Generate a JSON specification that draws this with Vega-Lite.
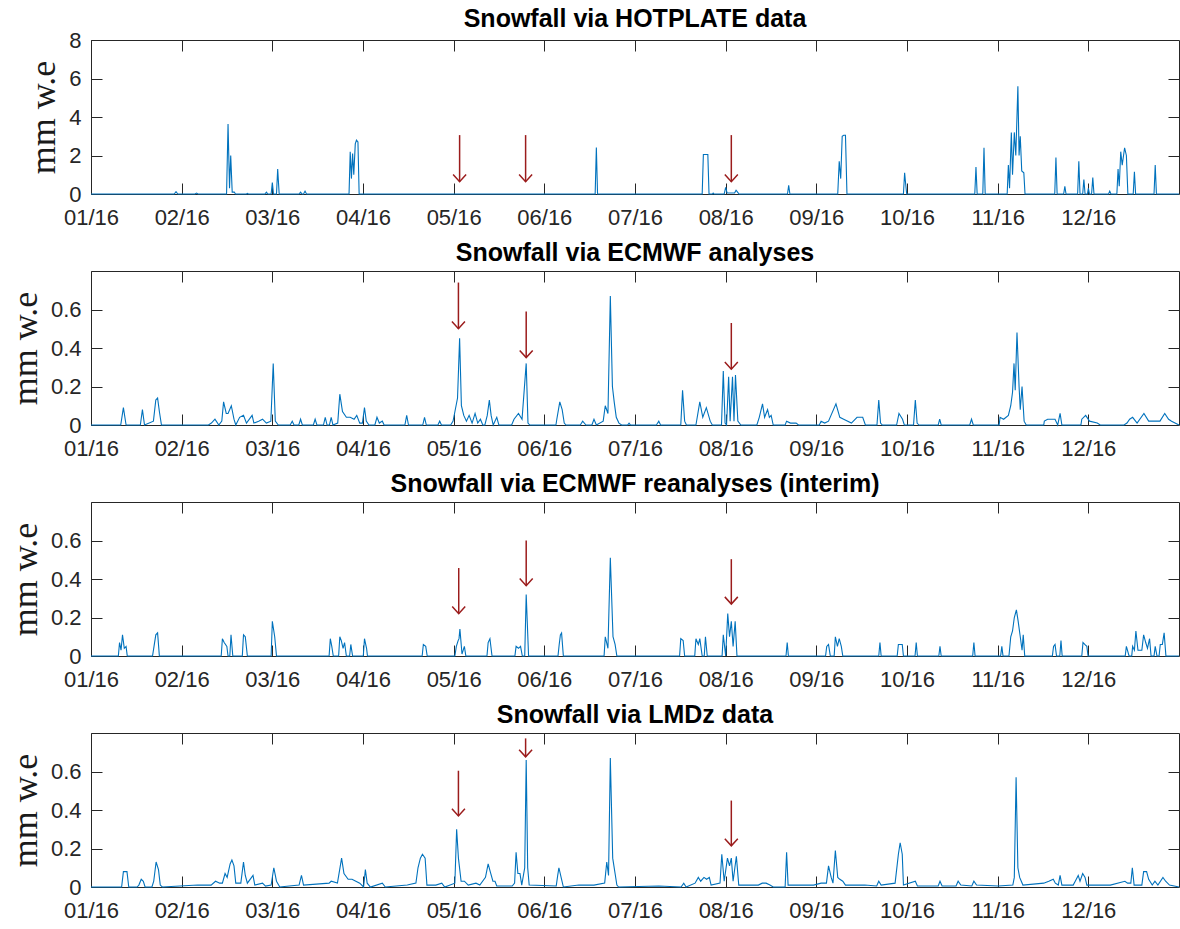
{
"$schema":"https://vega.github.io/schema/vega-lite/v6.json",
"background":"white",
"padding":{"left":6,"top":6,"right":0,"bottom":0},
"spacing":11,
"config":{
 "view":{"stroke":"#262626","strokeWidth":1},
 "axis":{"grid":false,"domain":false,"labelFlush":false,"tickColor":"#262626","tickWidth":1,"tickSize":-11,"labelFont":"Liberation Sans","labelFontSize":22,"labelColor":"#262626","titleFont":"Liberation Serif","titleFontSize":36,"titleFontWeight":"normal","titleColor":"#1a1a1a"},
 "title":{"font":"Liberation Sans","fontSize":25,"fontWeight":"bold","color":"#000000","anchor":"middle","frame":"group"}
},
"datasets":{
"hot":[
{"d":0,"v":0},{"d":28,"v":0},{"d":28.6,"v":0.12},{"d":29.2,"v":0},{"d":35,"v":0},{"d":35.5,"v":0.05},{"d":36,"v":0},
{"d":45.6,"v":0},{"d":46.1,"v":3.63},{"d":46.6,"v":0.3},{"d":47,"v":2.0},{"d":47.5,"v":0.1},{"d":48.2,"v":0.1},{"d":48.6,"v":0},
{"d":52.3,"v":0},{"d":52.6,"v":0.03},{"d":53,"v":0},
{"d":58.5,"v":0},{"d":59,"v":0.1},{"d":59.5,"v":0},{"d":60.6,"v":0},{"d":61,"v":0.6},{"d":61.4,"v":0},{"d":62.4,"v":0},{"d":62.8,"v":1.3},{"d":63.3,"v":0},
{"d":70,"v":0},{"d":70.5,"v":0.1},{"d":71,"v":0},{"d":71.5,"v":0},{"d":72,"v":0.15},{"d":72.5,"v":0},
{"d":86.8,"v":0},{"d":87.2,"v":2.2},{"d":87.6,"v":0.8},{"d":88,"v":2.1},{"d":88.4,"v":1.0},{"d":88.9,"v":2.6},{"d":89.3,"v":2.8},{"d":89.8,"v":2.7},{"d":90.2,"v":0},
{"d":169.6,"v":0},{"d":170,"v":2.42},{"d":170.4,"v":0},
{"d":205.6,"v":0},{"d":206,"v":2.05},{"d":207.5,"v":2.05},{"d":207.9,"v":0},
{"d":209,"v":0},{"d":209.3,"v":0.05},{"d":209.6,"v":0},
{"d":213,"v":0},{"d":213.5,"v":0.35},{"d":214,"v":0.05},{"d":216.5,"v":0.05},{"d":217,"v":0.2},{"d":217.5,"v":0.1},{"d":218,"v":0},
{"d":234.3,"v":0},{"d":234.7,"v":0.45},{"d":235.1,"v":0},
{"d":251.2,"v":0},{"d":251.7,"v":1.7},{"d":252.2,"v":0.8},{"d":252.7,"v":3.0},{"d":253.2,"v":3.05},{"d":253.8,"v":3.05},{"d":254.3,"v":0},
{"d":273.3,"v":0},{"d":273.7,"v":1.1},{"d":274,"v":0.6},{"d":274.4,"v":0},
{"d":297.3,"v":0},{"d":297.7,"v":1.4},{"d":298.1,"v":0},
{"d":300,"v":0},{"d":300.4,"v":2.4},{"d":300.8,"v":0},
{"d":308.2,"v":0},{"d":308.6,"v":1.5},{"d":309,"v":0.3},{"d":309.6,"v":3.2},{"d":310,"v":1.0},{"d":310.6,"v":3.2},{"d":311.1,"v":2.0},{"d":311.8,"v":5.6},{"d":312.2,"v":2.0},{"d":312.6,"v":3.0},{"d":313.1,"v":1.2},{"d":313.8,"v":1.1},{"d":314.2,"v":0},
{"d":324.2,"v":0},{"d":324.6,"v":1.9},{"d":325,"v":0},
{"d":327.2,"v":0},{"d":327.6,"v":0.4},{"d":328,"v":0},
{"d":331.9,"v":0},{"d":332.3,"v":1.7},{"d":332.7,"v":0},{"d":333.6,"v":0},{"d":334,"v":0.75},{"d":334.4,"v":0},{"d":335.2,"v":0},{"d":335.5,"v":0.3},{"d":335.9,"v":0},{"d":336.6,"v":0},{"d":337,"v":0.85},{"d":337.4,"v":0},
{"d":342.3,"v":0},{"d":342.7,"v":0.15},{"d":343.1,"v":0},
{"d":345.1,"v":0},{"d":345.5,"v":1.3},{"d":345.9,"v":0.4},{"d":346.4,"v":2.2},{"d":346.9,"v":1.5},{"d":347.7,"v":2.4},{"d":348.3,"v":2.0},{"d":348.8,"v":0},
{"d":350.6,"v":0},{"d":351,"v":1.15},{"d":351.4,"v":0},
{"d":357.6,"v":0},{"d":358,"v":1.5},{"d":358.4,"v":0},{"d":366,"v":0}
],
"ana":[
{"d":0,"v":0},{"d":10,"v":0},{"d":10.9,"v":0.09},{"d":11.8,"v":0},{"d":16.6,"v":0},{"d":17.3,"v":0.08},{"d":18,"v":0},{"d":21,"v":0.02},{"d":21.8,"v":0.13},{"d":22.4,"v":0.14},{"d":23,"v":0.07},{"d":23.7,"v":0},
{"d":39.5,"v":0},{"d":40.5,"v":0.01},{"d":41.7,"v":0.03},{"d":43,"v":0},{"d":44,"v":0.02},{"d":44.6,"v":0.12},{"d":45.5,"v":0.06},{"d":46.1,"v":0.06},{"d":47.2,"v":0.1},{"d":48.1,"v":0.03},{"d":48.7,"v":0},{"d":50,"v":0.04},{"d":51.3,"v":0.05},{"d":52.3,"v":0.01},{"d":54.2,"v":0.05},{"d":54.8,"v":0.01},{"d":56.4,"v":0.02},{"d":57.7,"v":0.03},{"d":59,"v":0.01},{"d":60.5,"v":0.02},{"d":61.3,"v":0.32},{"d":62,"v":0.02},{"d":63,"v":0},
{"d":67,"v":0},{"d":67.7,"v":0.02},{"d":68.3,"v":0},{"d":69.9,"v":0},{"d":70.5,"v":0.03},{"d":71.1,"v":0},{"d":74.8,"v":0},{"d":75.4,"v":0.03},{"d":76,"v":0},{"d":78.2,"v":0},{"d":78.8,"v":0.04},{"d":79.4,"v":0},{"d":80.2,"v":0},{"d":80.8,"v":0.04},{"d":81.4,"v":0},{"d":83,"v":0.01},{"d":83.7,"v":0.16},{"d":84.6,"v":0.07},{"d":85.9,"v":0.04},{"d":87.2,"v":0.04},{"d":88.5,"v":0.03},{"d":89.4,"v":0.05},{"d":90.4,"v":0.01},{"d":91.3,"v":0.01},{"d":92,"v":0.09},{"d":92.6,"v":0.02},{"d":93.5,"v":0},{"d":95.5,"v":0},{"d":96.2,"v":0.04},{"d":97,"v":0.01},{"d":98,"v":0.02},{"d":98.6,"v":0},
{"d":105.6,"v":0},{"d":106.2,"v":0.05},{"d":106.8,"v":0},{"d":111.6,"v":0},{"d":112.2,"v":0.04},{"d":112.8,"v":0},{"d":116.7,"v":0},{"d":117.3,"v":0.02},{"d":117.9,"v":0},
{"d":121,"v":0},{"d":121.8,"v":0.02},{"d":122.8,"v":0.1},{"d":123.3,"v":0.14},{"d":124,"v":0.45},{"d":124.6,"v":0.1},{"d":125.4,"v":0.05},{"d":126.3,"v":0.02},{"d":127.2,"v":0.05},{"d":128.2,"v":0.01},{"d":129.2,"v":0.06},{"d":130.1,"v":0.01},{"d":131,"v":0.03},{"d":131.8,"v":0},{"d":132.5,"v":0},{"d":133.3,"v":0.05},{"d":134,"v":0.13},{"d":134.6,"v":0.05},{"d":135.3,"v":0},{"d":136.5,"v":0.04},{"d":137.2,"v":0},
{"d":141.5,"v":0},{"d":142.3,"v":0.03},{"d":143.8,"v":0.06},{"d":145,"v":0.03},{"d":146.4,"v":0.32},{"d":147,"v":0.01},{"d":147.6,"v":0},
{"d":156.4,"v":0},{"d":156.7,"v":0.03},{"d":157.7,"v":0.12},{"d":158.5,"v":0.08},{"d":159.2,"v":0.01},{"d":159.8,"v":0},
{"d":164.6,"v":0},{"d":165.4,"v":0.02},{"d":166.5,"v":0},{"d":168.5,"v":0},{"d":169.2,"v":0.03},{"d":170,"v":0},{"d":172.3,"v":0.02},{"d":173,"v":0.1},{"d":173.9,"v":0.06},{"d":174.7,"v":0.67},{"d":175.4,"v":0.2},{"d":176,"v":0.12},{"d":176.7,"v":0.04},{"d":177.6,"v":0.01},{"d":178.5,"v":0},
{"d":180.5,"v":0},{"d":181,"v":0.01},{"d":181.5,"v":0},{"d":190.2,"v":0},{"d":191,"v":0.02},{"d":191.6,"v":0},
{"d":198.4,"v":0},{"d":199,"v":0.18},{"d":199.7,"v":0.02},{"d":200.3,"v":0},
{"d":203.5,"v":0},{"d":204.8,"v":0.12},{"d":205.8,"v":0.04},{"d":207,"v":0.09},{"d":208.3,"v":0.02},{"d":209,"v":0},
{"d":212.1,"v":0},{"d":212.7,"v":0.28},{"d":213.3,"v":0.01},{"d":213.8,"v":0},{"d":214.5,"v":0.25},{"d":215,"v":0.02},{"d":215.8,"v":0.25},{"d":216.3,"v":0.02},{"d":216.8,"v":0.26},{"d":217.6,"v":0.02},{"d":218.6,"v":0},
{"d":224,"v":0},{"d":224.8,"v":0.04},{"d":225.9,"v":0.11},{"d":226.6,"v":0.04},{"d":227.6,"v":0.08},{"d":228.2,"v":0.04},{"d":228.8,"v":0.05},{"d":229.5,"v":0},
{"d":233.5,"v":0},{"d":234,"v":0.02},{"d":235.3,"v":0.01},{"d":237.2,"v":0.01},{"d":238,"v":0},
{"d":245,"v":0},{"d":245.6,"v":0.02},{"d":246.8,"v":0.01},{"d":248.1,"v":0.02},{"d":250.6,"v":0.11},{"d":251.9,"v":0.04},{"d":253.2,"v":0.03},{"d":255.8,"v":0.01},{"d":257.7,"v":0.04},{"d":259.6,"v":0.04},{"d":260.5,"v":0},
{"d":264.4,"v":0},{"d":265,"v":0.13},{"d":265.6,"v":0.01},{"d":266.2,"v":0},
{"d":271,"v":0},{"d":271.8,"v":0.06},{"d":273,"v":0.03},{"d":273.6,"v":0},
{"d":276.7,"v":0},{"d":277.3,"v":0.13},{"d":277.9,"v":0.01},{"d":278.5,"v":0},
{"d":285,"v":0},{"d":285.5,"v":0.03},{"d":286,"v":0},{"d":295.6,"v":0},{"d":296.2,"v":0.03},{"d":296.8,"v":0},
{"d":305.5,"v":0},{"d":305.8,"v":0.04},{"d":307,"v":0.03},{"d":308.6,"v":0.05},{"d":309.4,"v":0.1},{"d":310,"v":0.17},{"d":310.5,"v":0.32},{"d":310.9,"v":0.18},{"d":311.5,"v":0.48},{"d":312.2,"v":0.2},{"d":312.6,"v":0.08},{"d":313.2,"v":0.2},{"d":313.9,"v":0.02},{"d":314.6,"v":0},
{"d":320.5,"v":0},{"d":320.7,"v":0.02},{"d":321.8,"v":0.03},{"d":323.3,"v":0.03},{"d":324.3,"v":0.03},{"d":325.2,"v":0},{"d":326,"v":0.06},{"d":326.6,"v":0},
{"d":333,"v":0},{"d":333.3,"v":0.03},{"d":334.6,"v":0.05},{"d":335.9,"v":0.02},{"d":338.5,"v":0.01},{"d":339.5,"v":0},
{"d":347.5,"v":0},{"d":348.5,"v":0.01},{"d":349.4,"v":0.03},{"d":350.4,"v":0.04},{"d":351.9,"v":0.01},{"d":354.2,"v":0.06},{"d":355.8,"v":0.02},{"d":357.7,"v":0.02},{"d":359.6,"v":0.02},{"d":361.2,"v":0.06},{"d":362.5,"v":0.03},{"d":363.5,"v":0.02},{"d":366,"v":0}
],
"rea":[
{"d":0,"v":0},{"d":9.2,"v":0},{"d":9.6,"v":0.07},{"d":10.1,"v":0.03},{"d":10.6,"v":0.11},{"d":11.2,"v":0.04},{"d":11.8,"v":0.05},{"d":12.2,"v":0},
{"d":20.7,"v":0},{"d":21.2,"v":0.05},{"d":21.8,"v":0.11},{"d":22.4,"v":0.12},{"d":23,"v":0},
{"d":43.8,"v":0},{"d":44.2,"v":0.09},{"d":44.8,"v":0.07},{"d":45.7,"v":0.05},{"d":46.1,"v":0},{"d":46.7,"v":0},{"d":47.1,"v":0.11},{"d":47.7,"v":0},
{"d":50.9,"v":0},{"d":51.3,"v":0.11},{"d":51.9,"v":0.1},{"d":52.6,"v":0},
{"d":60.6,"v":0},{"d":61,"v":0.18},{"d":61.8,"v":0.1},{"d":62.4,"v":0},
{"d":80.1,"v":0},{"d":80.5,"v":0.09},{"d":81,"v":0.05},{"d":81.5,"v":0},
{"d":83.3,"v":0},{"d":83.7,"v":0.1},{"d":84.2,"v":0.08},{"d":84.8,"v":0.04},{"d":85.3,"v":0.07},{"d":85.9,"v":0},
{"d":87,"v":0},{"d":87.4,"v":0.06},{"d":88,"v":0},
{"d":91.6,"v":0},{"d":92,"v":0.09},{"d":92.7,"v":0.04},{"d":93,"v":0},
{"d":111.4,"v":0},{"d":111.8,"v":0.06},{"d":112.6,"v":0.05},{"d":113.1,"v":0},
{"d":122.4,"v":0},{"d":122.9,"v":0.05},{"d":123.5,"v":0.08},{"d":123.8,"v":0.09},{"d":124.1,"v":0.14},{"d":124.8,"v":0.01},{"d":125.6,"v":0.05},{"d":126.1,"v":0},
{"d":133.2,"v":0},{"d":133.6,"v":0.07},{"d":134.2,"v":0.09},{"d":134.9,"v":0},
{"d":142.6,"v":0},{"d":143,"v":0.05},{"d":143.8,"v":0.04},{"d":144.5,"v":0.05},{"d":145.1,"v":0},{"d":145.9,"v":0},{"d":146.4,"v":0.32},{"d":147.2,"v":0},
{"d":157.1,"v":0},{"d":157.5,"v":0.06},{"d":157.9,"v":0.11},{"d":158.3,"v":0.12},{"d":158.9,"v":0},
{"d":172.6,"v":0},{"d":173,"v":0.1},{"d":173.9,"v":0.04},{"d":174.7,"v":0.51},{"d":175.6,"v":0.1},{"d":176.3,"v":0.06},{"d":176.9,"v":0},
{"d":198,"v":0},{"d":198.4,"v":0.09},{"d":199.2,"v":0.08},{"d":199.7,"v":0},
{"d":203.1,"v":0},{"d":203.5,"v":0.09},{"d":204.3,"v":0.06},{"d":204.8,"v":0.09},{"d":205.6,"v":0},{"d":206.3,"v":0},{"d":206.7,"v":0.1},{"d":207.3,"v":0},
{"d":212.3,"v":0},{"d":212.7,"v":0.11},{"d":213.5,"v":0},{"d":214.2,"v":0.22},{"d":214.8,"v":0.1},{"d":215.4,"v":0.18},{"d":216,"v":0.05},{"d":216.7,"v":0.18},{"d":217.3,"v":0},
{"d":233.8,"v":0},{"d":234.2,"v":0.07},{"d":234.6,"v":0},
{"d":247.1,"v":0},{"d":247.5,"v":0.05},{"d":248.1,"v":0.06},{"d":248.7,"v":0},{"d":250,"v":0},{"d":250.4,"v":0.1},{"d":251.1,"v":0.05},{"d":251.7,"v":0.09},{"d":252.4,"v":0.05},{"d":252.9,"v":0},
{"d":265,"v":0},{"d":265.4,"v":0.07},{"d":265.8,"v":0},
{"d":271.2,"v":0},{"d":271.6,"v":0.06},{"d":272.3,"v":0.06},{"d":272.9,"v":0.06},{"d":273.3,"v":0},
{"d":277.2,"v":0},{"d":277.6,"v":0.07},{"d":278,"v":0},
{"d":285.2,"v":0},{"d":285.6,"v":0.05},{"d":286,"v":0},
{"d":296.6,"v":0},{"d":297,"v":0.07},{"d":297.4,"v":0},
{"d":306,"v":0},{"d":306.4,"v":0.05},{"d":306.8,"v":0},
{"d":308.8,"v":0},{"d":309.4,"v":0.1},{"d":310,"v":0.13},{"d":310.6,"v":0.2},{"d":311.3,"v":0.24},{"d":311.9,"v":0.18},{"d":312.6,"v":0.1},{"d":313.2,"v":0.03},{"d":313.6,"v":0.11},{"d":314.1,"v":0},
{"d":323.4,"v":0},{"d":323.8,"v":0.05},{"d":324.3,"v":0.06},{"d":324.8,"v":0},{"d":325.9,"v":0},{"d":326.3,"v":0.08},{"d":326.7,"v":0},
{"d":333.3,"v":0},{"d":333.7,"v":0.07},{"d":334.3,"v":0.06},{"d":335,"v":0.05},{"d":335.4,"v":0},
{"d":347.9,"v":0},{"d":348.3,"v":0.05},{"d":349.2,"v":0},{"d":350.1,"v":0},{"d":350.4,"v":0.05},{"d":351,"v":0.03},{"d":351.5,"v":0.13},{"d":352.2,"v":0.03},{"d":353.5,"v":0.03},{"d":354.1,"v":0.11},{"d":354.8,"v":0.07},{"d":355.4,"v":0.04},{"d":356.1,"v":0.09},{"d":356.6,"v":0},{"d":357.6,"v":0},{"d":358,"v":0.05},{"d":358.6,"v":0},{"d":359.3,"v":0},{"d":359.7,"v":0.06},{"d":360.4,"v":0.06},{"d":361,"v":0.12},{"d":361.6,"v":0},{"d":366,"v":0}
],
"lmd":[
{"d":0,"v":0},{"d":10.3,"v":0},{"d":10.9,"v":0.08},{"d":12.1,"v":0.08},{"d":12.7,"v":0},
{"d":15.5,"v":0},{"d":16.1,"v":0.01},{"d":16.9,"v":0.04},{"d":17.6,"v":0.03},{"d":18.2,"v":0},
{"d":20.5,"v":0},{"d":21.1,"v":0.03},{"d":21.9,"v":0.13},{"d":22.7,"v":0.09},{"d":23.3,"v":0.01},{"d":24,"v":0},
{"d":35.9,"v":0.01},{"d":40.4,"v":0.01},{"d":41.9,"v":0.03},{"d":43.3,"v":0.02},{"d":44.2,"v":0.02},{"d":45.1,"v":0.07},{"d":45.8,"v":0.05},{"d":46.8,"v":0.12},{"d":47.4,"v":0.14},{"d":48.1,"v":0.11},{"d":48.7,"v":0.02},{"d":50.4,"v":0.02},{"d":51.3,"v":0.13},{"d":51.9,"v":0.06},{"d":52.6,"v":0.02},{"d":54.5,"v":0.06},{"d":55.1,"v":0.01},{"d":57.7,"v":0.02},{"d":58.7,"v":0.005},{"d":60.6,"v":0.01},{"d":61.5,"v":0.1},{"d":62.4,"v":0.03},{"d":63.5,"v":0},{"d":66.7,"v":0.005},{"d":70,"v":0.01},{"d":70.8,"v":0.06},{"d":71.5,"v":0.01},
{"d":80.1,"v":0.02},{"d":80.8,"v":0.03},{"d":82.9,"v":0.02},{"d":84.3,"v":0.15},{"d":85.1,"v":0.07},{"d":86.5,"v":0.04},{"d":87.8,"v":0.04},{"d":89.1,"v":0.03},{"d":90.4,"v":0.02},{"d":91.7,"v":0},{"d":92.3,"v":0.09},{"d":92.9,"v":0.02},{"d":94,"v":0},{"d":98,"v":0.02},{"d":99,"v":0},
{"d":106.4,"v":0.01},{"d":109.3,"v":0.02},{"d":110,"v":0.1},{"d":110.8,"v":0.15},{"d":111.5,"v":0.17},{"d":112.4,"v":0.15},{"d":113,"v":0.01},{"d":116,"v":0.01},{"d":118,"v":0.02},{"d":119,"v":0},
{"d":122.4,"v":0.02},{"d":123,"v":0.3},{"d":123.6,"v":0.15},{"d":124.5,"v":0.03},{"d":125.6,"v":0.03},{"d":126.9,"v":0.01},{"d":129.5,"v":0.02},{"d":130.8,"v":0.01},{"d":132.7,"v":0.05},{"d":133.6,"v":0.12},{"d":134.3,"v":0.08},{"d":135.2,"v":0.03},{"d":135.9,"v":0.03},{"d":136.5,"v":0.005},
{"d":141.7,"v":0.005},{"d":142.5,"v":0.02},{"d":143,"v":0.18},{"d":143.6,"v":0.07},{"d":144.3,"v":0.07},{"d":144.9,"v":0.01},{"d":145.9,"v":0.1},{"d":146.4,"v":0.66},{"d":146.9,"v":0.1},{"d":147.4,"v":0.01},
{"d":156.5,"v":0.005},{"d":157,"v":0.06},{"d":157.4,"v":0.1},{"d":158.3,"v":0.04},{"d":158.9,"v":0},
{"d":164.1,"v":0.01},{"d":169.2,"v":0.01},{"d":172.8,"v":0.02},{"d":173.5,"v":0.13},{"d":174.1,"v":0.06},{"d":174.7,"v":0.67},{"d":175.5,"v":0.15},{"d":176.3,"v":0.07},{"d":176.9,"v":0.01},{"d":177.5,"v":0},
{"d":191,"v":0.005},{"d":198.5,"v":0},{"d":199.4,"v":0.02},{"d":200.2,"v":0},
{"d":203.2,"v":0.02},{"d":204.3,"v":0.05},{"d":205.1,"v":0.03},{"d":206.2,"v":0.05},{"d":207.1,"v":0.04},{"d":208,"v":0.05},{"d":208.6,"v":0.01},
{"d":211.6,"v":0.02},{"d":212.2,"v":0.17},{"d":213,"v":0.03},{"d":214.1,"v":0.15},{"d":214.8,"v":0.11},{"d":215.4,"v":0.15},{"d":216,"v":0.03},{"d":217.1,"v":0.16},{"d":217.9,"v":0.01},
{"d":224.5,"v":0.01},{"d":225.8,"v":0.02},{"d":227.1,"v":0.02},{"d":228.4,"v":0.01},{"d":229.5,"v":0},
{"d":233.5,"v":0},{"d":234,"v":0.18},{"d":234.5,"v":0.01},{"d":243.1,"v":0.01},{"d":245.6,"v":0.02},{"d":247.4,"v":0.02},{"d":248.1,"v":0.11},{"d":249,"v":0.05},{"d":249.6,"v":0.02},{"d":250.4,"v":0.19},{"d":251.2,"v":0.05},{"d":251.9,"v":0.04},{"d":252.9,"v":0.03},{"d":253.8,"v":0.01},{"d":260.3,"v":0.01},{"d":264.3,"v":0.005},{"d":265,"v":0.03},{"d":265.8,"v":0.01},
{"d":270.5,"v":0.02},{"d":271.6,"v":0.17},{"d":272.2,"v":0.23},{"d":272.9,"v":0.17},{"d":273.3,"v":0.01},
{"d":277.3,"v":0.03},{"d":278,"v":0.005},{"d":285,"v":0.005},{"d":285.6,"v":0.03},{"d":286.3,"v":0.005},{"d":291,"v":0.005},{"d":291.7,"v":0.03},{"d":292.6,"v":0.01},{"d":296.3,"v":0.005},{"d":297,"v":0.03},{"d":297.9,"v":0.01},{"d":305.2,"v":0.005},
{"d":310.1,"v":0.01},{"d":310.6,"v":0.05},{"d":311.2,"v":0.57},{"d":311.8,"v":0.1},{"d":312.4,"v":0.05},{"d":313.5,"v":0.01},
{"d":320.5,"v":0.02},{"d":322.2,"v":0.03},{"d":323.7,"v":0.04},{"d":324.4,"v":0.02},{"d":325.4,"v":0.01},{"d":326,"v":0.06},{"d":326.6,"v":0.01},
{"d":330.4,"v":0.01},{"d":331.1,"v":0.03},{"d":332.1,"v":0.06},{"d":332.7,"v":0.03},{"d":333.6,"v":0.07},{"d":334.4,"v":0.05},{"d":335,"v":0.01},{"d":337.8,"v":0.01},{"d":340.4,"v":0.01},{"d":342.9,"v":0.01},
{"d":347.8,"v":0.03},{"d":348.7,"v":0.02},{"d":349.8,"v":0.02},{"d":350.3,"v":0.1},{"d":350.9,"v":0.01},{"d":353.5,"v":0.01},{"d":354.1,"v":0.08},{"d":355.1,"v":0.08},{"d":355.8,"v":0.04},{"d":357,"v":0.01},{"d":357.9,"v":0.03},{"d":358.9,"v":0.01},{"d":360.6,"v":0.05},{"d":361.5,"v":0.03},{"d":362.8,"v":0.01},{"d":366,"v":0}
],
"arrows":[
{"p":1,"d":124,"y1":3.06,"y2":0.64},{"p":1,"d":146.2,"y1":3.06,"y2":0.64},{"p":1,"d":215.4,"y1":3.06,"y2":0.64},
{"p":2,"d":123.6,"y1":0.74,"y2":0.5},{"p":2,"d":146.4,"y1":0.59,"y2":0.35},{"p":2,"d":215.4,"y1":0.53,"y2":0.29},
{"p":3,"d":123.7,"y1":0.457,"y2":0.22},{"p":3,"d":146.4,"y1":0.6,"y2":0.365},{"p":3,"d":215.4,"y1":0.503,"y2":0.27},
{"p":4,"d":123.6,"y1":0.604,"y2":0.369},{"p":4,"d":146.2,"y1":0.772,"y2":0.676},{"p":4,"d":215.4,"y1":0.449,"y2":0.214}
]
},
"vconcat":[
{
"width":1088,"height":154,"title":{"text":"Snowfall via HOTPLATE data","offset":-3},
"layer":[
{"data":{"name":"hot"},"mark":{"type":"line","color":"#0072BD","strokeWidth":1.1},
 "encoding":{
  "x":{"field":"d","type":"quantitative","scale":{"domain":[0,366],"nice":false,"zero":false},"axis":{"orient":"bottom","title":null,"values":[0,30.5,61,91.5,122,152.5,183,213.5,244,274.5,305,335.5],"labelExpr":"(round(datum.value/30.5)+1 < 10 ? '0' : '') + (round(datum.value/30.5)+1) + '/16'","labelPadding":24}},
  "y":{"field":"v","type":"quantitative","scale":{"domain":[0,8],"nice":false},"axis":{"orient":"left","title":"mm w.e","values":[0,2,4,6,8],"format":"d","labelPadding":21,"titlePadding":6}}}},
{"data":{"name":"arrows"},"transform":[{"filter":"datum.p==1"}],"mark":{"type":"rule","color":"#9B1C1C","strokeWidth":1.5},
 "encoding":{
  "x":{"field":"d","type":"quantitative","axis":{"orient":"top","title":null,"labels":false,"values":[0,30.5,61,91.5,122,152.5,183,213.5,244,274.5,305,335.5]}},
  "y":{"field":"y1","type":"quantitative","axis":{"orient":"right","title":null,"labels":false,"values":[2,4,6]}},
  "y2":{"field":"y2"}}},
{"data":{"name":"arrows"},"transform":[{"filter":"datum.p==1"}],"mark":{"type":"point","shape":"M-1,-1.1L0,0L1,-1.1","filled":false,"size":169,"color":"#9B1C1C","strokeWidth":1.5,"opacity":1},
 "encoding":{"x":{"field":"d","type":"quantitative","axis":null},"y":{"field":"y2","type":"quantitative","axis":null}}}
],
"resolve":{"axis":{"x":"independent","y":"independent"}}
},
{
"width":1088,"height":154,"title":{"text":"Snowfall via ECMWF analyses","offset":5},
"layer":[
{"data":{"name":"ana"},"mark":{"type":"line","color":"#0072BD","strokeWidth":1.1},
 "encoding":{
  "x":{"field":"d","type":"quantitative","scale":{"domain":[0,366],"nice":false,"zero":false},"axis":{"orient":"bottom","title":null,"values":[0,30.5,61,91.5,122,152.5,183,213.5,244,274.5,305,335.5],"labelExpr":"(round(datum.value/30.5)+1 < 10 ? '0' : '') + (round(datum.value/30.5)+1) + '/16'","labelPadding":24}},
  "y":{"field":"v","type":"quantitative","scale":{"domain":[0,0.8],"nice":false},"axis":{"orient":"left","title":"mm w.e","values":[0,0.2,0.4,0.6],"format":".1~f","labelPadding":21,"titlePadding":6}}}},
{"data":{"name":"arrows"},"transform":[{"filter":"datum.p==2"}],"mark":{"type":"rule","color":"#9B1C1C","strokeWidth":1.5},
 "encoding":{
  "x":{"field":"d","type":"quantitative","axis":{"orient":"top","title":null,"labels":false,"values":[0,30.5,61,91.5,122,152.5,183,213.5,244,274.5,305,335.5]}},
  "y":{"field":"y1","type":"quantitative","axis":{"orient":"right","title":null,"labels":false,"values":[0.2,0.4,0.6]}},
  "y2":{"field":"y2"}}},
{"data":{"name":"arrows"},"transform":[{"filter":"datum.p==2"}],"mark":{"type":"point","shape":"M-1,-1.1L0,0L1,-1.1","filled":false,"size":169,"color":"#9B1C1C","strokeWidth":1.5,"opacity":1},
 "encoding":{"x":{"field":"d","type":"quantitative","axis":null},"y":{"field":"y2","type":"quantitative","axis":null}}}
],
"resolve":{"axis":{"x":"independent","y":"independent"}}
},
{
"width":1088,"height":154,"title":{"text":"Snowfall via ECMWF reanalyses (interim)","offset":5},
"layer":[
{"data":{"name":"rea"},"mark":{"type":"line","color":"#0072BD","strokeWidth":1.1},
 "encoding":{
  "x":{"field":"d","type":"quantitative","scale":{"domain":[0,366],"nice":false,"zero":false},"axis":{"orient":"bottom","title":null,"values":[0,30.5,61,91.5,122,152.5,183,213.5,244,274.5,305,335.5],"labelExpr":"(round(datum.value/30.5)+1 < 10 ? '0' : '') + (round(datum.value/30.5)+1) + '/16'","labelPadding":24}},
  "y":{"field":"v","type":"quantitative","scale":{"domain":[0,0.8],"nice":false},"axis":{"orient":"left","title":"mm w.e","values":[0,0.2,0.4,0.6],"format":".1~f","labelPadding":21,"titlePadding":6}}}},
{"data":{"name":"arrows"},"transform":[{"filter":"datum.p==3"}],"mark":{"type":"rule","color":"#9B1C1C","strokeWidth":1.5},
 "encoding":{
  "x":{"field":"d","type":"quantitative","axis":{"orient":"top","title":null,"labels":false,"values":[0,30.5,61,91.5,122,152.5,183,213.5,244,274.5,305,335.5]}},
  "y":{"field":"y1","type":"quantitative","axis":{"orient":"right","title":null,"labels":false,"values":[0.2,0.4,0.6]}},
  "y2":{"field":"y2"}}},
{"data":{"name":"arrows"},"transform":[{"filter":"datum.p==3"}],"mark":{"type":"point","shape":"M-1,-1.1L0,0L1,-1.1","filled":false,"size":169,"color":"#9B1C1C","strokeWidth":1.5,"opacity":1},
 "encoding":{"x":{"field":"d","type":"quantitative","axis":null},"y":{"field":"y2","type":"quantitative","axis":null}}}
],
"resolve":{"axis":{"x":"independent","y":"independent"}}
},
{
"width":1088,"height":154,"title":{"text":"Snowfall via LMDz data","offset":5},
"layer":[
{"data":{"name":"lmd"},"mark":{"type":"line","color":"#0072BD","strokeWidth":1.1},
 "encoding":{
  "x":{"field":"d","type":"quantitative","scale":{"domain":[0,366],"nice":false,"zero":false},"axis":{"orient":"bottom","title":null,"values":[0,30.5,61,91.5,122,152.5,183,213.5,244,274.5,305,335.5],"labelExpr":"(round(datum.value/30.5)+1 < 10 ? '0' : '') + (round(datum.value/30.5)+1) + '/16'","labelPadding":24}},
  "y":{"field":"v","type":"quantitative","scale":{"domain":[0,0.8],"nice":false},"axis":{"orient":"left","title":"mm w.e","values":[0,0.2,0.4,0.6],"format":".1~f","labelPadding":21,"titlePadding":6}}}},
{"data":{"name":"arrows"},"transform":[{"filter":"datum.p==4"}],"mark":{"type":"rule","color":"#9B1C1C","strokeWidth":1.5},
 "encoding":{
  "x":{"field":"d","type":"quantitative","axis":{"orient":"top","title":null,"labels":false,"values":[0,30.5,61,91.5,122,152.5,183,213.5,244,274.5,305,335.5]}},
  "y":{"field":"y1","type":"quantitative","axis":{"orient":"right","title":null,"labels":false,"values":[0.2,0.4,0.6]}},
  "y2":{"field":"y2"}}},
{"data":{"name":"arrows"},"transform":[{"filter":"datum.p==4"}],"mark":{"type":"point","shape":"M-1,-1.1L0,0L1,-1.1","filled":false,"size":169,"color":"#9B1C1C","strokeWidth":1.5,"opacity":1},
 "encoding":{"x":{"field":"d","type":"quantitative","axis":null},"y":{"field":"y2","type":"quantitative","axis":null}}}
],
"resolve":{"axis":{"x":"independent","y":"independent"}}
}
]
}
